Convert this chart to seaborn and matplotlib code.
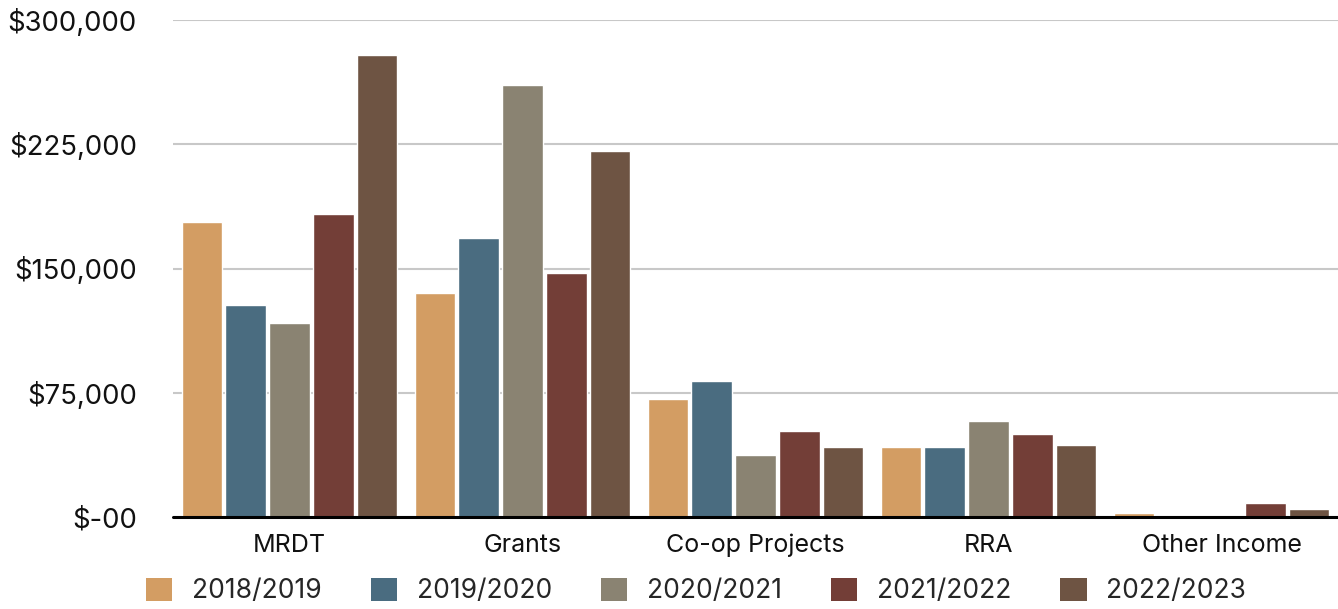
import matplotlib
matplotlib.use("Agg")
import matplotlib.pyplot as plt
import seaborn as sns
import pandas as pd
from matplotlib.patches import Patch

categories = ["MRDT", "Grants", "Co-op Projects", "RRA", "Other Income"]
years = ["2018/2019", "2019/2020", "2020/2021", "2021/2022", "2022/2023"]
v_2018_2019 = [178000, 135000, 71000, 42000, 2500]
v_2019_2020 = [128000, 168500, 82000, 42000, 0]
v_2020_2021 = [117000, 261000, 37500, 57800, 0]
v_2021_2022 = [182800, 147400, 51700, 49900, 8600]
v_2022_2023 = [279000, 221000, 42000, 43300, 5000]
colors = ["#D39D63", "#4A6C80", "#8A8372", "#733E37", "#6E5443"]
yticks = [0, 75000, 150000, 225000, 300000]

series = [v_2018_2019, v_2019_2020, v_2020_2021, v_2021_2022, v_2022_2023]
rows = []
for yr, vals in zip(years, series):
    for c, v in zip(categories, vals):
        rows.append({"category": c, "year": yr, "value": v})
df = pd.DataFrame(rows)

sns.set_theme(style="white")
plt.rcParams["font.family"] = ["Inter", "DejaVu Sans"]

fig = plt.figure(figsize=(13.38, 6.09), dpi=100)
ax = fig.add_axes([173/1338, 1-517/609, 1-173/1338, (517-20)/609])

sns.barplot(data=df, x="category", y="value", hue="year", order=categories,
            hue_order=years, palette=colors, width=0.944, gap=0.09,
            saturation=1, ax=ax, legend=False, zorder=3)

ax.set_xlim(-0.5, 4.5)
ax.set_ylim(0, 300000)
ax.set_yticks(yticks)
ax.set_yticklabels(["$-00" if v == 0 else f"${v:,.0f}" for v in yticks])
ax.grid(axis="y", color="#c8c8c8", linewidth=1.5, zorder=0)
ax.set_axisbelow(True)
ax.axhline(0, color="black", linewidth=2.2, zorder=5, clip_on=False)
for s in ax.spines.values():
    s.set_visible(False)
ax.set_xlabel("")
ax.set_ylabel("")
ax.tick_params(axis="y", length=0, pad=26, labelsize=19.8, labelcolor="#111111")
ax.tick_params(axis="x", length=0, pad=12, labelsize=18, labelcolor="#111111")

handles = [Patch(facecolor=c, edgecolor="none") for c in colors]
fig.legend(handles, years, loc="center left", bbox_to_anchor=(146/1338, 1-591/609),
           ncol=5, frameon=False, fontsize=19, handlelength=1.0, handleheight=1.0,
           handletextpad=0.75, columnspacing=1.85, borderaxespad=0, borderpad=0)

fig.savefig("out.png", dpi=100)
